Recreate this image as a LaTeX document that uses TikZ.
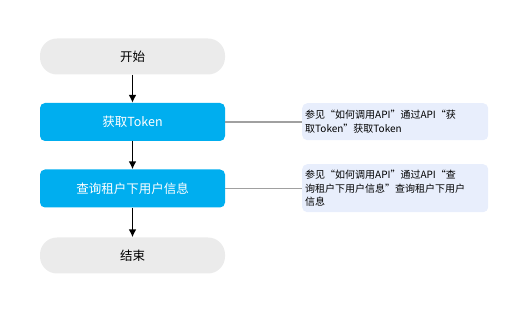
\documentclass[tikz,border=0pt]{standalone}
\usepackage{fontspec}
\setmainfont{Noto Sans CJK SC}
\usetikzlibrary{arrows.meta}
\definecolor{startgray}{HTML}{EBEBEB}
\definecolor{procblue}{HTML}{00AEEF}
\definecolor{noteblue}{HTML}{E8EEFC}
\definecolor{linegray}{HTML}{A0A0A0}
\begin{document}
\begin{tikzpicture}[x=1pt,y=-1pt,
  term/.style={fill=startgray, draw=none, rounded corners=17pt, minimum width=185pt, minimum height=36pt, inner sep=0pt, font=\fontsize{12.5}{14}\selectfont},
  proc/.style={fill=procblue, draw=none, rounded corners=5pt, minimum width=185pt, minimum height=38pt, inner sep=0pt, text=white, font=\fontsize{12.5}{14}\selectfont},
  note/.style={fill=noteblue, draw=none, rounded corners=5pt, text width=180pt, align=left, inner xsep=3pt, inner ysep=2.5pt, anchor=north west, font=\fontsize{10}{13.5}\selectfont},
  flow/.style={draw=black, line width=1.8pt, -{Latex[length=8pt,width=8pt]}},
  link/.style={draw=linegray, line width=1.8pt}]
\useasboundingbox (0,0) rectangle (525,312);
\node[term] (start) at (132.5,56.5) {开始};
\node[proc] (token) at (132.5,122) {获取Token};
\node[proc] (query) at (132.5,188.5) {查询租户下用户信息};
\node[term] (end) at (132.5,255.5) {结束};
\draw[flow] (start) -- (token);
\draw[flow] (token) -- (query);
\draw[flow] (query) -- (end);
\node[note, minimum height=37pt] (n1) at (302,103) {参见“如何调用API”通过API“获\\取Token”获取Token};
\node[note, minimum height=48pt] (n2) at (302,164) {参见“如何调用API”通过API“查\\询租户下用户信息”查询租户下用户\\信息};
\draw[link] (token.east) -- (token.east -| n1.west);
\draw[link] (query.east) -- (query.east -| n2.west);
\end{tikzpicture}
\end{document}
